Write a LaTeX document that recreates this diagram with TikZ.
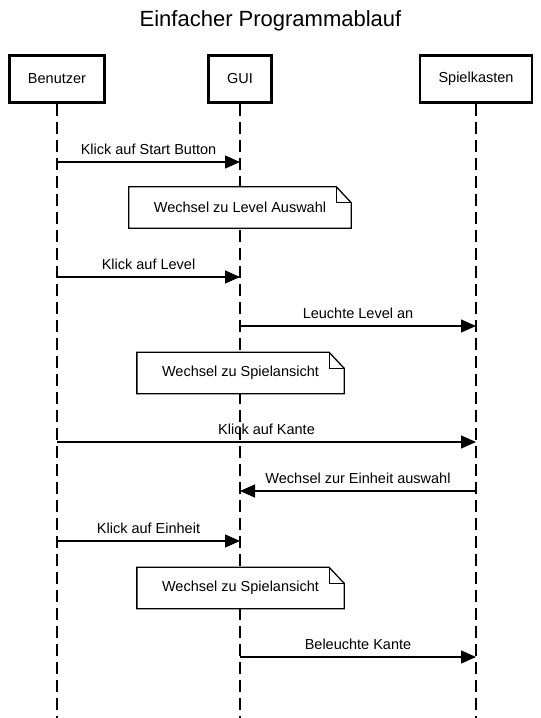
\documentclass[tikz,border=0pt]{standalone}
\usepackage{fontspec}
\setmainfont{Liberation Sans}
\usetikzlibrary{arrows.meta}
\newcommand{\lab}{\fontsize{14.5pt}{17pt}\selectfont}
\newcommand{\drawnotefold}[1]{%
  \draw[notefr] (#1.north west) -- ([xshift=-15pt]#1.north east)
    -- ([yshift=-16pt]#1.north east) -- (#1.south east) -- (#1.south west) -- cycle;
  \draw[notefr] ([xshift=-15pt]#1.north east) |- ([yshift=-16pt]#1.north east);}
\tikzset{
  actor/.style={draw, line width=2.7pt, fill=white, font=\lab, inner xsep=18.5pt,
    minimum height=47pt, anchor=center},
  lifeline/.style={line width=1.3pt, dash pattern=on 12pt off 6pt},
  msg/.style={line width=1.3pt, -{Triangle[length=15pt,width=13pt]}},
  lbl/.style={midway, anchor=base, yshift=7.5pt, font=\lab, inner sep=0pt},
  notebox/.style={fill=white, font=\lab, inner xsep=25pt, inner ysep=0pt,
    minimum height=41pt},
  notefr/.style={line width=1.3pt, line join=miter},
}
\begin{document}
\begin{tikzpicture}[x=1pt, y=-1pt]
\useasboundingbox (0,0) rectangle (541,718);
\node[font=\fontsize{22pt}{26pt}\selectfont] (title) at (270.5,21) {Einfacher Programmablauf};
% actors
\node[actor] (ben) at (57,79) {Benutzer};
\node[actor] (gui) at (240,79) {GUI};
\node[actor] (spk) at (476,79) {Spielkasten};
\coordinate (benEnd) at (57,718);
\coordinate (guiEnd) at (240,718);
\coordinate (spkEnd) at (476,718);
\draw[lifeline] (ben.south) -- (benEnd);
\draw[lifeline] (gui.south) -- (guiEnd);
\draw[lifeline] (spk.south) -- (spkEnd);
% message end points
\coordinate (m1a) at (57,162);  \coordinate (m1b) at (240,162);
\coordinate (m2a) at (57,277);  \coordinate (m2b) at (240,277);
\coordinate (m3a) at (240,326); \coordinate (m3b) at (476,326);
\coordinate (m4a) at (57,442);  \coordinate (m4b) at (476,442);
\coordinate (m5a) at (476,491); \coordinate (m5b) at (240,491);
\coordinate (m6a) at (57,541);  \coordinate (m6b) at (240,541);
\coordinate (m7a) at (240,657); \coordinate (m7b) at (476,657);
% messages
\draw[msg] (m1a) -- (m1b) node[lbl] {Klick auf Start Button};
\draw[msg] (m2a) -- (m2b) node[lbl] {Klick auf Level};
\draw[msg] (m3a) -- (m3b) node[lbl] {Leuchte Level an};
\draw[msg] (m4a) -- (m4b) node[lbl] {Klick auf Kante};
\draw[msg] (m5a) -- (m5b) node[lbl] {Wechsel zur Einheit auswahl};
\draw[msg] (m6a) -- (m6b) node[lbl] {Klick auf Einheit};
\draw[msg] (m7a) -- (m7b) node[lbl] {Beleuchte Kante};
% notes
\node[notebox] (n1) at (240,207.5) {Wechsel zu Level Auswahl};
\drawnotefold{n1}
\node[notebox] (n2) at (240.5,373) {Wechsel zu Spielansicht};
\drawnotefold{n2}
\node[notebox] (n3) at (240.5,588) {Wechsel zu Spielansicht};
\drawnotefold{n3}
\end{tikzpicture}
\end{document}
